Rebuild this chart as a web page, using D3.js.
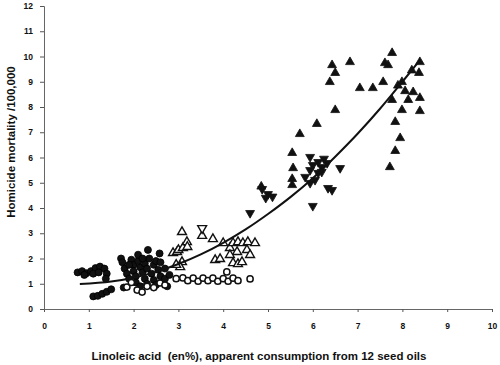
<!DOCTYPE html>
<html>
<head>
<meta charset="utf-8">
<script src="https://cdn.jsdelivr.net/npm/d3@7"></script>
<style>
  html, body { margin: 0; padding: 0; background: #fff; }
  svg { display: block; }
  text { font-family: Arial, "Liberation Sans", sans-serif; fill: #111; white-space: pre; }
</style>
</head>
<body>
<svg id="chart" width="500" height="365"></svg>
<script>
// ---- data ----
const xTicks = [0, 1, 2, 3, 4, 5, 6, 7, 8, 9, 10];
const yTicks = [0, 1, 2, 3, 4, 5, 6, 7, 8, 9, 10, 11, 12];
const xTitle = "Linoleic acid  (en%), apparent consumption from 12 seed oils";
const yTitle = "Homicide mortality /100,000";

const filledCircles = [
  [0.75,1.45],[0.85,1.5],[0.95,1.42],[1.05,1.5],[1.15,1.62],[1.25,1.68],[1.35,1.6],[1.4,1.4],
  [1.38,1.2],[1.1,1.4],[1.22,1.45],[0.9,1.35],
  [1.1,0.5],[1.2,0.52],[1.3,0.6],[1.4,0.68],[1.5,0.78],
  [1.72,2.0],[1.75,1.85],[1.8,1.6],[1.85,1.4],[1.9,1.2],[1.95,1.95],[2.0,1.75],[2.0,1.5],
  [2.05,1.3],[2.05,1.05],[2.1,1.9],[2.1,2.15],[2.15,1.65],[2.15,0.9],[2.2,1.45],[2.25,1.8],
  [2.25,1.2],[2.3,1.6],[2.3,1.0],[2.35,2.0],[2.32,2.34],[2.4,1.4],[2.45,1.75],[2.45,1.15],
  [2.5,1.9],[2.5,0.95],[2.55,1.55],[2.6,1.3],[2.6,1.85],[2.65,1.05],[2.7,1.6],[2.7,1.2],
  [2.75,0.9],[1.78,0.85],[2.58,2.2],[1.9,1.75],[2.2,2.0],[2.8,1.35]
];
const openCircles = [
  [1.85,0.87],[2.08,0.75],[2.19,0.67],[2.59,1.03],[2.3,0.9],[2.45,0.85],[2.7,0.95],[1.95,1.05],
  [2.95,1.2],[3.1,1.23],[3.21,1.12],[3.33,1.22],[3.44,1.1],[3.55,1.22],[3.66,1.12],[3.77,1.22],
  [3.88,1.1],[4.0,1.2],[4.08,1.47],[4.11,1.1],[4.22,1.22],[4.33,1.12],[4.6,1.19]
];
const openTrianglesUp = [
  [2.88,2.22],[2.97,2.26],[3.0,2.34],[3.1,2.42],[3.08,3.05],[3.19,2.65],[3.2,2.46],[3.08,1.86],
  [3.04,1.66],[3.53,2.9],[3.77,2.77],[4.0,2.61],[4.15,2.42],[4.22,2.61],[4.33,2.65],[4.44,2.61],
  [4.55,2.65],[4.71,2.61],[4.31,2.26],[4.53,2.34],[4.6,2.14],[4.15,2.14],[3.82,1.94],[3.93,1.98],
  [4.22,1.82],[4.33,1.78],[4.42,1.86],[2.95,1.75]
];
const openTrianglesDown = [[3.53,3.2]];
const filledTrianglesDown = [
  [4.6,3.8],[4.87,4.75],[5.0,4.55],[5.1,4.45],[4.95,4.4],[5.94,6.02],[5.94,5.5],[6.12,5.82],
  [6.2,5.62],[6.32,5.78],[5.83,5.23],[5.94,4.99],[6.05,5.11],[6.12,5.39],[6.2,5.43],[6.61,5.58],
  [6.34,4.79],[6.43,4.71],[6.0,4.08],[6.25,5.95],[6.0,5.7]
];
const filledTrianglesUp = [
  [4.85,4.85],[5.54,4.91],[5.54,5.15],[5.56,5.58],[5.54,6.18],[5.71,6.93],[6.09,7.33],[6.5,7.88],
  [6.38,8.99],[6.43,9.66],[6.5,9.35],[6.83,9.78],[7.05,8.75],[7.34,8.75],[7.57,8.99],[7.61,9.74],
  [7.68,9.66],[7.77,10.14],[7.99,8.99],[8.06,8.63],[8.24,8.59],[7.77,8.28],[8.13,8.28],[8.39,8.36],
  [7.99,7.88],[8.39,7.84],[7.84,7.41],[7.95,6.77],[7.84,6.26],[7.72,5.62],[8.39,9.78],[8.37,9.35],
  [8.21,9.45],[7.9,8.85]
];
const fitCurve = [
  [0.8,0.99],[1.5,1.09],[2,1.24],[2.5,1.47],[3,1.78],[3.5,2.16],[4,2.62],[4.5,3.15],
  [5,3.76],[5.5,4.43],[6,5.18],[6.5,6.03],[7,6.94],[7.5,7.93],[8,9.0],[8.4,9.88]
];

// ---- drawing ----
const svg = d3.select("#chart");
const x = d3.scaleLinear().domain([0, 10]).range([44, 492]);
const y = d3.scaleLinear().domain([0, 12]).range([309, 6]);

// axes
const xAxis = d3.axisBottom(x).tickValues(xTicks).tickSize(3).tickFormat(d3.format("d"));
const yAxis = d3.axisLeft(y).tickValues(yTicks).tickSize(4).tickFormat(d3.format("d"));

const gx = svg.append("g").attr("transform", `translate(0,${y(0)})`).call(xAxis);
const gy = svg.append("g").attr("transform", `translate(${x(0)},0)`).call(yAxis);
[gx, gy].forEach(g => {
  g.select(".domain").attr("stroke", "#666").attr("stroke-width", 1);
  g.selectAll(".tick line").attr("stroke", "#555");
  g.selectAll(".tick text").attr("font-size", "8.5px").attr("font-weight", "bold")
    .attr("font-family", "Arial, 'Liberation Sans', sans-serif").attr("fill", "#111");
});
gx.selectAll(".tick text").attr("dy", "0").attr("y", 20);
gy.selectAll(".tick text").attr("x", -11);

// titles
svg.append("text").attr("x", 259).attr("y", 360).attr("text-anchor", "middle")
  .attr("font-size", "11.5px").attr("font-weight", "bold").text(xTitle);
svg.append("text").attr("transform", "translate(15,142) rotate(-90)").attr("text-anchor", "middle")
  .attr("font-size", "11.5px").attr("font-weight", "bold").text(yTitle);

// marks
const tri = d3.symbol().type(d3.symbolTriangle).size(34);

svg.append("g").selectAll("circle").data(filledCircles).join("circle")
  .attr("cx", d => x(d[0])).attr("cy", d => y(d[1])).attr("r", 3.5)
  .attr("fill", "#111").attr("stroke", "#000").attr("stroke-width", 0.8);

svg.append("g").selectAll("circle").data(openCircles).join("circle")
  .attr("cx", d => x(d[0])).attr("cy", d => y(d[1])).attr("r", 3.1)
  .attr("fill", "#fff").attr("stroke", "#111").attr("stroke-width", 1.5);

svg.append("g").selectAll("path").data(openTrianglesUp).join("path")
  .attr("d", tri).attr("transform", d => `translate(${x(d[0])},${y(d[1])})`)
  .attr("fill", "#fff").attr("stroke", "#111").attr("stroke-width", 1.4);

svg.append("g").selectAll("path").data(openTrianglesDown).join("path")
  .attr("d", tri).attr("transform", d => `translate(${x(d[0])},${y(d[1])}) rotate(180)`)
  .attr("fill", "#fff").attr("stroke", "#111").attr("stroke-width", 1.4);

svg.append("g").selectAll("path").data(filledTrianglesDown).join("path")
  .attr("d", tri).attr("transform", d => `translate(${x(d[0])},${y(d[1])}) rotate(180)`)
  .attr("fill", "#111").attr("stroke", "#111").attr("stroke-width", 0.8);

svg.append("g").selectAll("path").data(filledTrianglesUp).join("path")
  .attr("d", tri).attr("transform", d => `translate(${x(d[0])},${y(d[1])})`)
  .attr("fill", "#111").attr("stroke", "#111").attr("stroke-width", 0.8);

// fitted curve
svg.append("path").datum(fitCurve)
  .attr("d", d3.line().x(d => x(d[0])).y(d => y(d[1])).curve(d3.curveMonotoneX))
  .attr("fill", "none").attr("stroke", "#111").attr("stroke-width", 2);
</script>
</body>
</html>
